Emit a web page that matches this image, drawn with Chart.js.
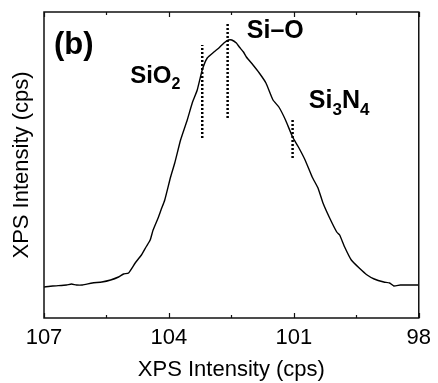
<!doctype html>
<html lang="en">
    <head>
        <meta charset="utf-8">
        <title>XPS spectrum (b)</title>
        <script src="https://cdn.jsdelivr.net/npm/chart.js@4.4.1/dist/chart.umd.min.js"></script>
        <style>
            html, body { margin: 0; padding: 0; background: #fff; }
            #wrap { width: 438px; height: 383px; }
        </style>
    </head>
    <body>
        <div id="wrap"><canvas id="myChart" width="438" height="383"></canvas></div>
        <script>
            // binding energy (eV)
            var energy = [107.00, 106.79, 106.46, 106.34, 106.22, 106.08, 105.84, 105.61, 105.40, 105.21,
                105.09, 104.97, 104.81, 104.66, 104.55, 104.45, 104.38, 104.26, 104.19, 104.10,
                103.96, 103.86, 103.72, 103.56, 103.44, 103.32, 103.20, 103.08, 102.92, 102.80,
                102.68, 102.57, 102.49, 102.38, 102.31, 102.21, 102.14, 101.98, 101.83, 101.67,
                101.50, 101.36, 101.20, 101.03, 100.89, 100.73, 100.56, 100.42, 100.30, 100.14,
                99.97, 99.90, 99.78, 99.62, 99.43, 99.24, 99.07, 98.84, 98.70, 98.60,
                98.44, 98.20, 98.01];
            var intensity = [31, 32, 33, 34, 33, 33, 35, 36, 38, 41,
                44, 45, 55, 63, 71, 78, 88, 100, 108, 118,
                141, 155, 178, 198, 215, 228, 248, 260, 266, 270,
                275, 278, 278, 275, 271, 266, 261, 253, 245, 235,
                218, 211, 198, 181, 171, 158, 141, 130, 115, 100,
                86, 83, 71, 58, 50, 43, 39, 36, 35, 32,
                33, 33, 33];

            // dotted peak markers
            var markerNames = ["SiO2", "Si-O", "Si3N4"];
            var markerPos = [103.20, 102.59, 101.03];
            var markerLow = [180, 200, 160];
            var markerHigh = [273, 294, 200];

            var xTicks = [107, 104, 101, 98];
            var xMinor = [105.5, 102.5, 99.5];

            var FONT = "'Liberation Sans', Arial, sans-serif";

            var datasets = [{
                data: energy.map(function (e, i) { return {x: e, y: intensity[i]}; }),
                borderColor: "#000",
                borderWidth: 1.4,
                pointRadius: 0,
                tension: 0.15,
                fill: false
            }];
            markerPos.forEach(function (p, i) {
                datasets.push({
                    label: markerNames[i],
                    data: [{x: p, y: markerLow[i]}, {x: p, y: markerHigh[i]}],
                    borderColor: "#000",
                    borderWidth: 2.5,
                    borderDash: [2, 2],
                    pointRadius: 0,
                    fill: false
                });
            });

            // text pieces: [text, subscript?]
            function drawRich(ctx, parts, x, y, size) {
                parts.forEach(function (p) {
                    var s = p[1] ? Math.round(size * 0.68) : size;
                    ctx.font = "bold " + s + "px " + FONT;
                    ctx.fillText(p[0], x, p[1] ? y + size * 0.26 : y);
                    x += ctx.measureText(p[0]).width;
                });
            }

            var frame = {
                id: "frame",
                afterDraw: function (chart) {
                    var ctx = chart.ctx, a = chart.chartArea;
                    var xs = chart.scales.x, ys = chart.scales.y;
                    ctx.save();
                    ctx.strokeStyle = "#111";
                    ctx.lineWidth = 1.5;
                    ctx.strokeRect(a.left, a.top, a.right - a.left, a.bottom - a.top);
                    ctx.lineWidth = 1.2;
                    ctx.beginPath();
                    xTicks.concat(xMinor).forEach(function (v, i) {
                        var len = i < xTicks.length ? 5 : 3;
                        var px = Math.round(xs.getPixelForValue(v)) + 0.5;
                        ctx.moveTo(px, a.bottom); ctx.lineTo(px, a.bottom - len);
                        ctx.moveTo(px, a.top); ctx.lineTo(px, a.top + len);
                    });
                    ctx.stroke();

                    ctx.fillStyle = "#000";
                    ctx.textBaseline = "alphabetic";
                    ctx.textAlign = "left";
                    ctx.font = "bold 31px " + FONT;
                    ctx.fillText("(b)", xs.getPixelForValue(106.76), ys.getPixelForValue(264));
                    drawRich(ctx, [["SiO", false], ["2", true]],
                        xs.getPixelForValue(104.93), ys.getPixelForValue(235), 24);
                    drawRich(ctx, [["Si\u2013O", false]],
                        xs.getPixelForValue(102.13), ys.getPixelForValue(280), 25);
                    drawRich(ctx, [["Si", false], ["3", true], ["N", false], ["4", true]],
                        xs.getPixelForValue(100.64), ys.getPixelForValue(210), 25);
                    ctx.restore();
                }
            };

            var ctx = document.getElementById("myChart").getContext("2d");
            var myChart = new Chart(ctx, {
                type: "line",
                data: { datasets: datasets },
                plugins: [frame],
                options: {
                    responsive: false,
                    animation: false,
                    layout: { padding: { top: 12, right: 12.5, left: 0, bottom: 0 } },
                    plugins: { legend: { display: false }, tooltip: { enabled: false } },
                    scales: {
                        x: {
                            type: "linear",
                            reverse: true,
                            min: 98,
                            max: 107,
                            afterBuildTicks: function (s) {
                                s.ticks = xTicks.map(function (v) { return {value: v}; });
                            },
                            afterFit: function (s) { s.height = 65; },
                            grid: { display: false, drawTicks: false },
                            border: { display: false },
                            ticks: {
                                color: "#000",
                                padding: 7,
                                maxRotation: 0,
                                font: { family: FONT, size: 22 }
                            },
                            title: {
                                display: true,
                                text: "XPS Intensity (cps)",
                                color: "#000",
                                padding: { top: 0, bottom: 0 },
                                font: { family: FONT, size: 22 }
                            }
                        },
                        y: {
                            min: 0,
                            max: 306,
                            afterFit: function (s) { s.width = 44; },
                            grid: { display: false, drawTicks: false },
                            border: { display: false },
                            ticks: { display: false },
                            title: {
                                display: true,
                                text: "XPS Intensity (cps)",
                                color: "#000",
                                padding: { top: 9, bottom: 0 },
                                font: { family: FONT, size: 22 }
                            }
                        }
                    }
                }
            });
        </script>
    </body>
</html>
